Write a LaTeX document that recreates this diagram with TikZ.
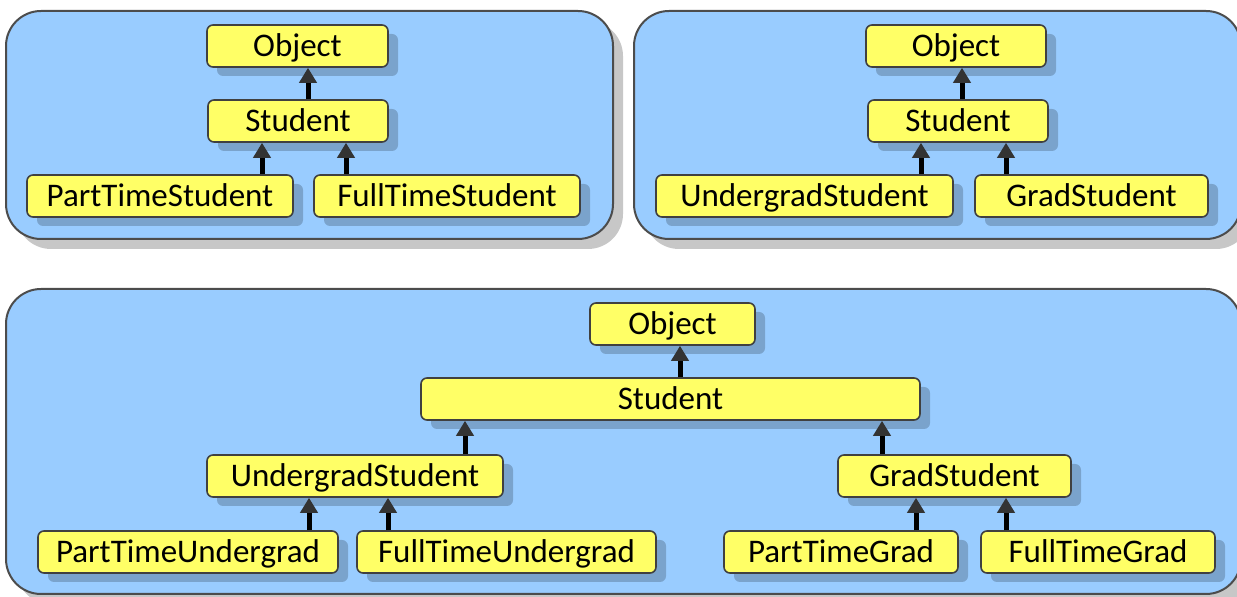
\documentclass[tikz,border=0pt]{standalone}
\usepackage{fontspec}
\setmainfont{Carlito}
\usepackage{tikz}
\usetikzlibrary{shadows,arrows.meta}
\definecolor{panelblue}{HTML}{99CCFF}
\definecolor{clsyellow}{HTML}{FFFF66}
\tikzstyle{panel} = [draw=black!70, fill=panelblue, line width=1pt, rounded corners=17.5pt,
  drop shadow={shadow xshift=5pt, shadow yshift=-5pt, fill=black, opacity=.22}]
\tikzstyle{cls} = [draw=black!75, fill=clsyellow, line width=0.8pt, rounded corners=3pt,
  minimum height=21pt, inner sep=0pt, text height=12.5pt, text depth=2pt,
  font=\fontsize{16.5}{20}\selectfont,
  drop shadow={shadow xshift=5pt, shadow yshift=-4.5pt, fill=black, opacity=.2}]
\tikzstyle{inherit} = [line width=2.5pt, -{Triangle[length=7.5pt, width=8.5pt, color=black!80]}]

\begin{document}
\begin{tikzpicture}[x=0.5pt, y=-0.5pt]
    \useasboundingbox (0,0) rectangle (1237,597);
    % panels
    \draw [panel] (6,11) rectangle (613,239);
    \draw [panel] (634,11) rectangle (1241,239);
    \draw [panel] (6,289) rectangle (1241,594);

    % single inheritance, left
    \node [cls, minimum width=90.5pt] (objA) at (297.5,46) {Object};
    \node [cls, minimum width=90pt] (stuA) at (298,121) {Student};
    \node [cls, minimum width=133pt] (ptA) at (160,196) {PartTimeStudent};
    \node [cls, minimum width=133pt] (ftA) at (447,196) {FullTimeStudent};
    \draw [inherit] (stuA.north -| 308,0) -- (objA.south -| 308,0);
    \draw [inherit] (ptA.north -| 262,0) -- (stuA.south -| 262,0);
    \draw [inherit] (ftA.north -| 346,0) -- (stuA.south -| 346,0);

    % single inheritance, right
    \node [cls, minimum width=90pt] (objB) at (956,46) {Object};
    \node [cls, minimum width=90pt] (stuB) at (958,121) {Student};
    \node [cls, minimum width=148.5pt] (ugB) at (804.5,196) {UndergradStudent};
    \node [cls, minimum width=116.5pt] (grB) at (1091.5,196) {GradStudent};
    \draw [inherit] (stuB.north -| 962,0) -- (objB.south -| 962,0);
    \draw [inherit] (ugB.north -| 921,0) -- (stuB.south -| 921,0);
    \draw [inherit] (grB.north -| 1006,0) -- (stuB.south -| 1006,0);

    % combined hierarchy
    \node [cls, minimum width=82.5pt] (objC) at (672.5,324) {Object};
    \node [cls, minimum width=249.5pt] (stuC) at (670.5,399) {Student};
    \node [cls, minimum width=148pt] (ugC) at (355,476) {UndergradStudent};
    \node [cls, minimum width=116.5pt] (grC) at (954.5,476) {GradStudent};
    \node [cls, minimum width=150pt] (ptuC) at (188,552) {PartTimeUndergrad};
    \node [cls, minimum width=149.5pt] (ftuC) at (506.5,552) {FullTimeUndergrad};
    \node [cls, minimum width=117pt] (ptgC) at (841,552) {PartTimeGrad};
    \node [cls, minimum width=117pt] (ftgC) at (1098,552) {FullTimeGrad};
    \draw [inherit] (stuC.north -| 680,0) -- (objC.south -| 680,0);
    \draw [inherit] (ugC.north -| 465,0) -- (stuC.south -| 465,0);
    \draw [inherit] (grC.north -| 882,0) -- (stuC.south -| 882,0);
    \draw [inherit] (ptuC.north -| 309,0) -- (ugC.south -| 309,0);
    \draw [inherit] (ftuC.north -| 388,0) -- (ugC.south -| 388,0);
    \draw [inherit] (ptgC.north -| 916,0) -- (grC.south -| 916,0);
    \draw [inherit] (ftgC.north -| 1006,0) -- (grC.south -| 1006,0);
\end{tikzpicture}
\end{document}
